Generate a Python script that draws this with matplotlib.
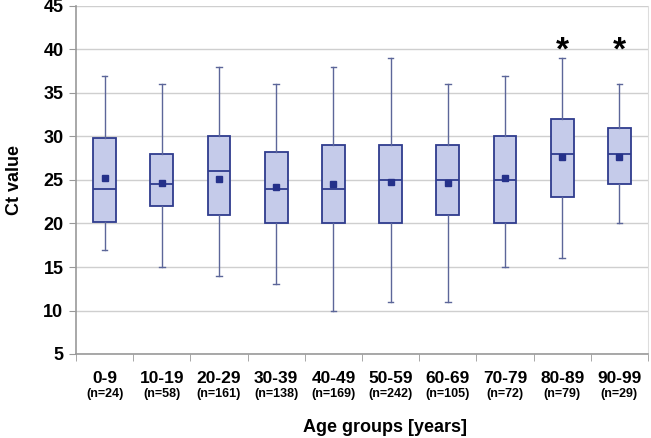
import matplotlib.pyplot as plt
import numpy as np

plt.rcParams['font.family'] = ['Liberation Sans', 'DejaVu Sans']

groups = ['0-9', '10-19', '20-29', '30-39', '40-49', '50-59', '60-69', '70-79', '80-89', '90-99']
counts = [24, 58, 161, 138, 169, 242, 105, 72, 79, 29]
whisker_lo = [17, 15, 14, 13, 10, 11, 11, 15, 16, 20]
q1 = [20.2, 22, 21, 20, 20, 20, 21, 20, 23, 24.5]
median = [24, 24.5, 26, 24, 24, 25, 25, 25, 28, 28]
q3 = [29.8, 28, 30, 28.2, 29, 29, 29, 30, 32, 31]
whisker_hi = [37, 36, 38, 36, 38, 39, 36, 37, 39, 36]
mean = [25.2, 24.7, 25.1, 24.2, 24.5, 24.8, 24.6, 25.2, 27.7, 27.7]
significant = [False] * 8 + [True, True]

box_fill = '#C5CBEA'
box_edge = '#2F3C8E'
whisk_col = '#5C6699'
mean_col = '#25318A'

fig = plt.figure(figsize=(6.51, 4.38), dpi=100)
ax = fig.add_axes([76 / 651, 1 - 354 / 438, 572 / 651, 348 / 438])

stats = []
for i in range(len(groups)):
    stats.append(dict(whislo=whisker_lo[i], q1=q1[i], med=median[i], q3=q3[i],
                      whishi=whisker_hi[i], mean=mean[i], fliers=[]))

pos = np.arange(1, len(groups) + 1)
ax.bxp(stats, positions=pos, widths=0.4, patch_artist=True, showmeans=True,
       showfliers=False, manage_ticks=False,
       boxprops=dict(facecolor=box_fill, edgecolor=box_edge, linewidth=1.3),
       medianprops=dict(color=box_edge, linewidth=1.3),
       whiskerprops=dict(color=whisk_col, linewidth=1.0),
       capprops=dict(color=whisk_col, linewidth=1.0),
       capwidths=0.1,
       meanprops=dict(marker='s', markerfacecolor=mean_col, markeredgecolor=mean_col,
                      markersize=5))

for p, s in zip(pos, significant):
    if s:
        ax.text(p, 38.0, '*', ha='center', va='bottom', fontsize=24, fontweight='bold')

ax.set_xlim(0.5, len(groups) + 0.5)
ax.set_ylim(5, 45)
ax.set_yticks(np.arange(5, 46, 5))
ax.yaxis.grid(True, color='#CFCFCF', linewidth=1.0)
ax.set_axisbelow(True)

ax.set_xticks(pos)
ax.set_xticklabels(groups, fontsize=12.5, fontweight='bold')
ax.tick_params(axis='x', which='major', length=0, pad=12)
ax.set_xticks(np.arange(0.5, len(groups) + 1), minor=True)
ax.tick_params(axis='x', which='minor', length=5, color='#999999', direction='out')
for p, n in zip(pos, counts):
    ax.text(p, -34 / 348, f'(n={n})', transform=ax.get_xaxis_transform(), ha='center',
            va='top', fontsize=9, fontweight='bold')

ax.tick_params(axis='y', labelsize=13, length=5, color='#999999', pad=4)
for lab in ax.get_yticklabels():
    lab.set_fontweight('bold')

for side in ['left', 'bottom']:
    ax.spines[side].set_color('#999999')
    ax.spines[side].set_linewidth(1.2)
ax.spines['top'].set_visible(False)
ax.spines['right'].set_color('#DDDDDD')

ax.set_ylabel('Ct value', fontsize=13, fontweight='bold')
ax.yaxis.set_label_coords(-(76 - 23) / 572, 0.5)
fig.text(385 / 651, 1 - 427 / 438, 'Age groups [years]', ha='center', va='center',
         fontsize=13, fontweight='bold')

fig.savefig('out.png', dpi=100)
